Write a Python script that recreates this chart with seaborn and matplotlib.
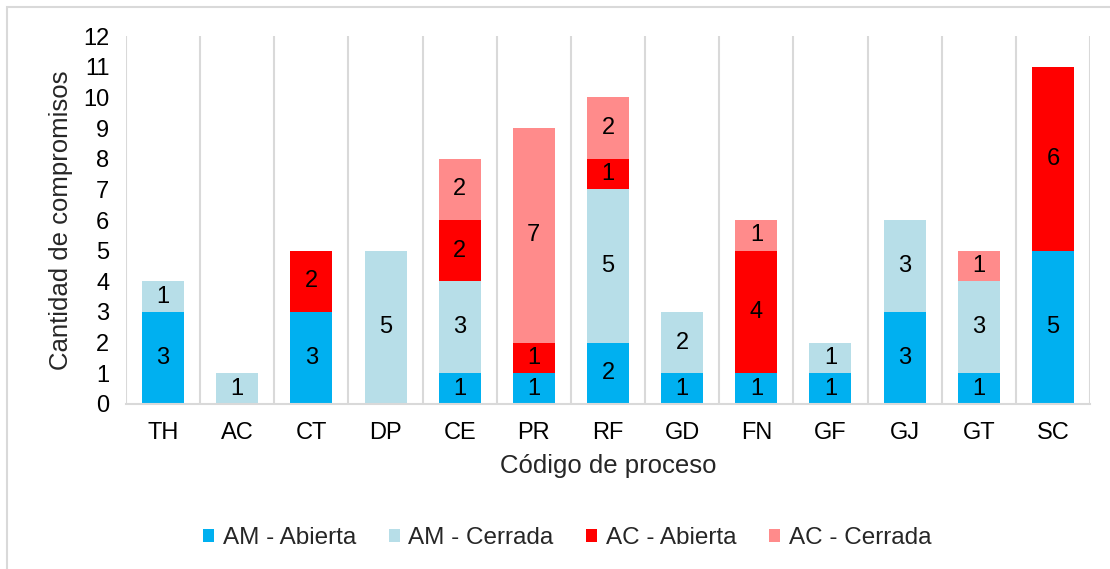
import numpy as np
import pandas as pd
import matplotlib
matplotlib.use('Agg')
import matplotlib.pyplot as plt
import seaborn as sns
from matplotlib.patches import Rectangle, Patch

procesos = ['TH', 'AC', 'CT', 'DP', 'CE', 'PR', 'RF', 'GD', 'FN', 'GF', 'GJ', 'GT', 'SC']
am_abierta = [3, 0, 3, 0, 1, 1, 2, 1, 1, 1, 3, 1, 5]
am_cerrada = [1, 1, 0, 5, 3, 0, 5, 2, 0, 1, 3, 3, 0]
ac_abierta = [0, 0, 2, 0, 2, 1, 1, 0, 4, 0, 0, 0, 6]
ac_cerrada = [0, 0, 0, 0, 2, 7, 2, 0, 1, 0, 0, 1, 0]

series = ['AM - Abierta', 'AM - Cerrada', 'AC - Abierta', 'AC - Cerrada']
colores = ['#00B0F0', '#B7DEE8', '#FF0000', '#FF8B8B']

sns.set_style('white')
plt.rcParams['font.family'] = ['Liberation Sans', 'DejaVu Sans']

fig = plt.figure(figsize=(11.1, 5.69), dpi=100)
ax = fig.add_axes([0.1135, 0.29, 0.8685, 0.6467])

valores = np.array([am_abierta, am_cerrada, ac_abierta, ac_cerrada])
acum = valores.cumsum(axis=0)
df = pd.DataFrame({'proceso': procesos})
for i, s in enumerate(series):
    df[s] = acum[i]

# stacked bars: draw cumulative totals from the top layer down
for i in range(len(series) - 1, -1, -1):
    sns.barplot(data=df, x='proceso', y=series[i], color=colores[i],
                width=0.566, saturation=1, linewidth=0, edgecolor='none',
                ax=ax, zorder=2)

# segment labels
for i in range(len(series)):
    for j in range(len(procesos)):
        v = valores[i, j]
        if v > 0:
            centro = acum[i, j] - v / 2
            ax.text(j, centro, str(v), ha='center', va='center',
                    fontsize=17, color='black', zorder=3)

ax.set_ylim(0, 12)
ax.set_xlim(-0.5, len(procesos) - 0.5)
ax.set_yticks(range(0, 13))
ax.tick_params(axis='both', labelsize=17, length=0, colors='black')
ax.tick_params(axis='x', pad=13)
ax.tick_params(axis='y', pad=12)

for x in np.arange(-0.5, len(procesos), 1.0):
    ax.axvline(x, color='#d9d9d9', lw=1.5, zorder=1)

for side in ['top', 'right', 'left']:
    ax.spines[side].set_visible(False)
ax.spines['bottom'].set_color('#d9d9d9')
ax.spines['bottom'].set_linewidth(1.5)
ax.spines['bottom'].set_zorder(4)

ax.set_xlabel('Código de proceso', fontsize=18.5, labelpad=7)
ax.set_ylabel('Cantidad de compromisos', fontsize=18.5, labelpad=7)

handles = [Patch(facecolor=c, edgecolor='none') for c in colores]
fig.legend(handles, series, loc='center', bbox_to_anchor=(0.511, 0.054), ncol=4,
           frameon=False, fontsize=17.5, handlelength=0.45, handleheight=0.45,
           handletextpad=0.35, columnspacing=1.35)

fig.patches.append(Rectangle((7 / 1110, -0.05), 1.2, 1 - 7 / 569 + 0.05,
                             transform=fig.transFigure, fill=False,
                             edgecolor='#d9d9d9', lw=1.5))

fig.savefig('out.png', dpi=100)
